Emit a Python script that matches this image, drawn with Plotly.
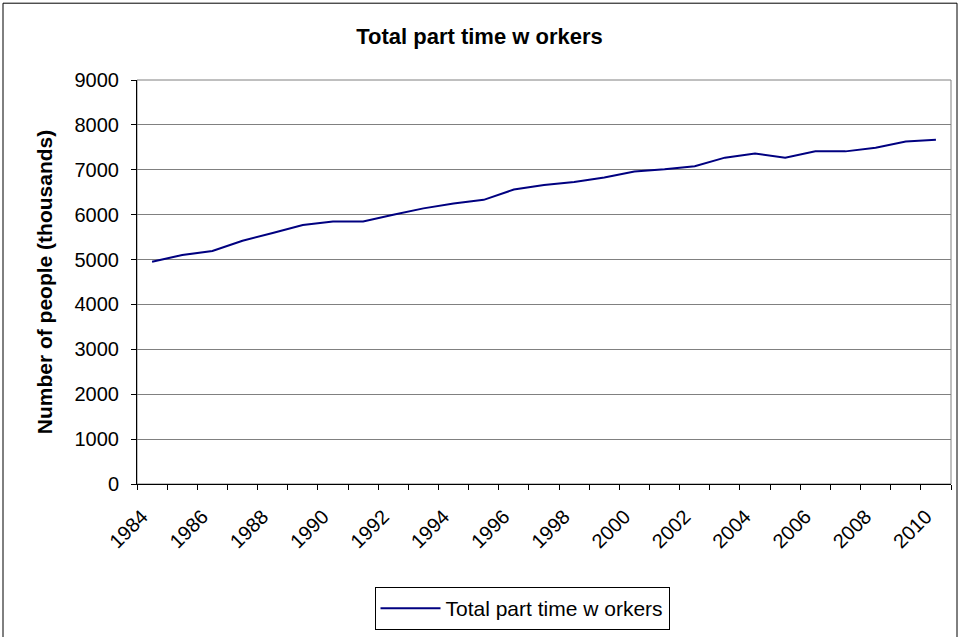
import plotly.graph_objects as go

years = list(range(1984, 2011))
workers = [4950, 5100, 5190, 5420, 5590, 5770, 5850, 5850, 6000, 6140,
           6250, 6330, 6560, 6660, 6730, 6830, 6960, 7010, 7080, 7270,
           7360, 7270, 7410, 7410, 7490, 7630, 7670]

series_name = "Total part time w orkers"
chart_title = "Total part time w orkers"
y_title = "Number of people (thousands)"

FONT = "Liberation Sans, Arial, sans-serif"
GRID = "#808080"
NAVY = "#000080"

W, H = 959, 637
L, R, T, B = 137, 8, 80, 152
pw, ph = W - L - R, H - T - B


def px_x(x):
    return (x - L) / pw


def px_y(y):
    return (H - B - y) / ph


fig = go.Figure()
fig.add_trace(go.Scatter(
    x=years, y=workers, mode="lines", name=series_name,
    line=dict(color=NAVY, width=2),
))

fig.update_layout(
    width=W, height=H,
    margin=dict(l=L, r=R, t=T, b=B),
    paper_bgcolor="white", plot_bgcolor="white",
    font=dict(family=FONT, size=20, color="black"),
    title=dict(text="<b>" + chart_title + "</b>", x=0.5, xanchor="center",
               y=1 - 36 / H, yanchor="middle", font=dict(size=22)),
    showlegend=True,
    legend=dict(x=px_x(522), xanchor="center", y=px_y(587), yanchor="top",
                bordercolor="black", borderwidth=1, font=dict(size=21),
                bgcolor="white", itemwidth=60),
    shapes=[
        dict(type="rect", xref="paper", yref="paper",
             x0=0, x1=1, y0=0, y1=1, line=dict(color=GRID, width=1), layer="below"),
        dict(type="rect", xref="paper", yref="paper",
             x0=px_x(3), x1=px_x(957), y0=px_y(645), y1=px_y(3),
             line=dict(color="black", width=1)),
    ],
)

fig.update_xaxes(
    range=[years[0] - 0.5, years[-1] + 0.5],
    tickmode="array", tickvals=years[::2], ticktext=[str(y) for y in years[::2]],
    tickangle=-45, ticks="", showgrid=False, zeroline=False,
    ticklabelstandoff=12, ticklabelshift=-10,
    showline=True, linecolor="black", linewidth=1,
    minor=dict(tickvals=[y - 0.5 for y in years] + [years[-1] + 0.5],
               ticks="outside", ticklen=5, tickcolor="black", showgrid=False),
)
fig.update_yaxes(
    range=[0, 9000], dtick=1000, tickmode="linear", tick0=0,
    showgrid=True, gridcolor=GRID, gridwidth=1, zeroline=False,
    showline=True, linecolor="black", linewidth=1,
    ticks="outside", ticklen=5, tickcolor="black", ticklabelstandoff=8,
    title=dict(text="<b>" + y_title + "</b>", font=dict(size=21), standoff=16),
)

fig.write_html("out.html", config={"displayModeBar": False},
               post_script="document.body.style.margin='0';")
